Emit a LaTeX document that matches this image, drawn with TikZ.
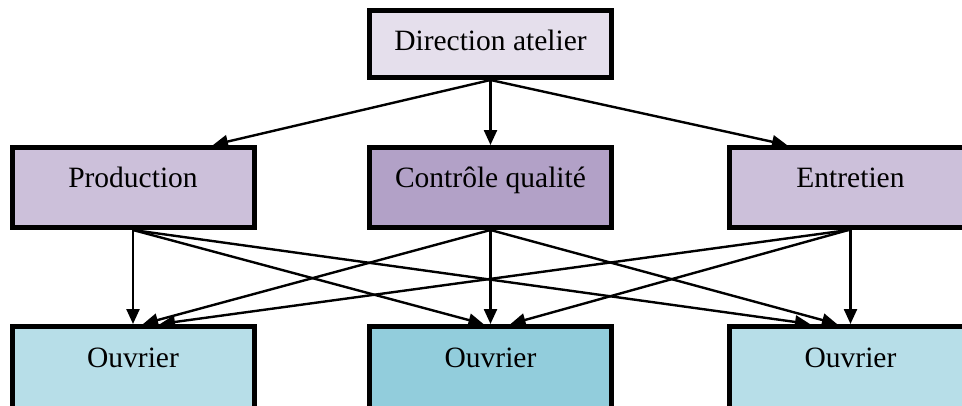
\documentclass[tikz,border=0pt]{standalone}
\usepackage{fontspec}
\setmainfont{Liberation Serif}
\usetikzlibrary{arrows.meta}
\definecolor{topfill}{HTML}{E5DFEC}
\definecolor{midfill}{HTML}{CCC0DA}
\definecolor{midstrong}{HTML}{B2A1C7}
\definecolor{lowfill}{HTML}{B7DEE8}
\definecolor{lowstrong}{HTML}{92CDDC}
\begin{document}
\begin{tikzpicture}[x=1pt,y=-1pt,
  box/.style={draw=black, line width=5pt, rectangle, inner sep=0pt,
    minimum width=242pt, minimum height=80pt,
    font=\fontsize{29.5}{34}\selectfont, text height=10pt, text depth=10pt},
  lowbox/.style={box, minimum height=100pt, text height=0pt, text depth=19pt},
  widebox/.style={minimum width=300pt},
  link/.style={line width=2.4pt, -{Triangle[length=15pt,width=13pt]}}]
  \useasboundingbox (0,0) rectangle (962,405);
  \fill[white] (0,0) rectangle (962,405);
  \clip (0,0) rectangle (962,405);

  % management
  \node[box, fill=topfill, minimum height=67pt, text height=14pt, text depth=2pt]
    (dir) at (490.5,44) {Direction atelier};

  % departments
  \node[box, fill=midfill]   (prod) at (133,187.5)   {Production};
  \node[box, fill=midstrong] (ctrl) at (490.5,187.5) {Contrôle qualité};
  \node[box, widebox, fill=midfill] (entr) at (879.5,187.5) {Entretien\hspace*{58pt}};

  % workers
  \node[lowbox, fill=lowfill]   (ow1) at (133,376.5)   {Ouvrier};
  \node[lowbox, fill=lowstrong] (ow2) at (490.5,376.5) {Ouvrier};
  \node[lowbox, widebox, fill=lowfill] (ow3) at (879.5,376.5) {Ouvrier\hspace*{58pt}};

  % management to departments
  \draw[link] (dir.south) -- ([xshift=80pt]prod.north);
  \draw[link] (dir.south) -- (ctrl.north);
  \draw[link] (dir.south) -- ([xshift=-92.5pt]entr.north);

  % departments to workers
  \draw[link] (prod.south) -- (ow1.north);
  \draw[link] (prod.south) -- ([xshift=-7pt]ow2.north);
  \draw[link] (prod.south) -- ([xshift=-69.5pt]ow3.north);
  \draw[link] (ctrl.south) -- ([xshift=10pt]ow1.north);
  \draw[link] (ctrl.south) -- (ow2.north);
  \draw[link] (ctrl.south) -- ([xshift=-42.5pt]ow3.north);
  \draw[link] ([xshift=-31pt]entr.south) -- ([xshift=27pt]ow1.north);
  \draw[link] ([xshift=-31pt]entr.south) -- ([xshift=20pt]ow2.north);
  \draw[link] ([xshift=-29pt]entr.south) -- ([xshift=-29pt]ow3.north);
\end{tikzpicture}
\end{document}
